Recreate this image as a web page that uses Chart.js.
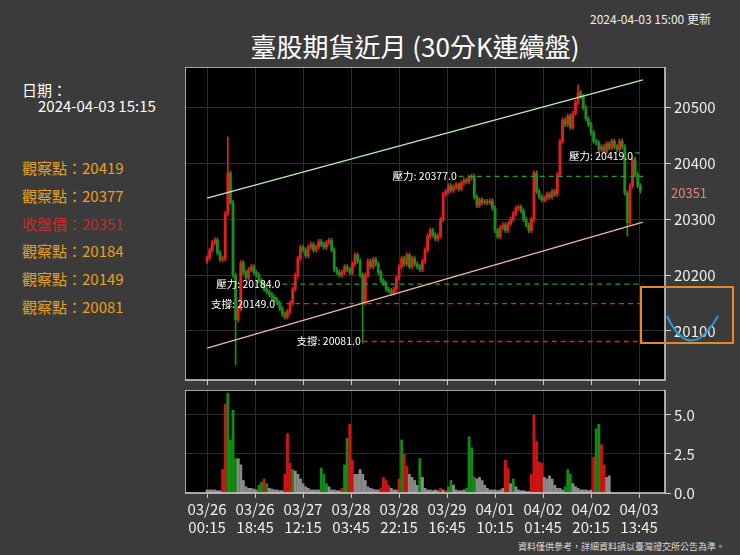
<!DOCTYPE html>
<html><head><meta charset="utf-8">
<script src="https://cdn.jsdelivr.net/npm/chart.js@4/dist/chart.umd.min.js"></script>
<style>
body{margin:0;background:#3b3b3b;width:740px;height:555px;overflow:hidden;font-family:"Noto Sans CJK TC",sans-serif;position:relative;color:#fff}
.t{position:absolute;white-space:nowrap}
canvas{position:absolute}
</style></head><body>
<div class="t" style="left:590px;top:10px;font-size:12px;color:#eee">2024-04-03 15:00 更新</div>
<div class="t" style="left:0;width:830px;text-align:center;top:27px;font-size:26px;color:#fff">臺股期貨近月 (30分K連續盤)</div>
<div class="t" style="left:22px;top:79px;font-size:15px">日期：</div>
<div class="t" style="left:38px;top:95px;font-size:15px">2024-04-03 15:15</div>
<div id="obs"></div>
<div class="t" style="left:518px;top:540px;font-size:9px;color:#ddd">資料僅供參考，詳細資料請以臺灣證交所公告為準。</div>
<div style="position:absolute;left:185px;top:67px;width:555px;height:318px"><canvas id="c1"></canvas></div>
<div style="position:absolute;left:185px;top:390px;width:555px;height:165px"><canvas id="c2"></canvas></div>
<script>
// half-resolution 30-min bars (each entry = 2 bars)
const closes = [
20231,20245,20258,20263,20240,20228,20230,20310,20383,20330,
20200,20120,20140,20222,20205,20195,20210,20215,20205,20200,
20190,20185,20175,20170,20165,20160,20156,20150,20140,20130,
20125,20135,20150,20175,20200,20230,20250,20245,20235,20250,
20255,20245,20250,20260,20255,20250,20258,20262,20245,20210,
20205,20200,20205,20215,20210,20205,20220,20236,20225,20200,
20150,20200,20225,20215,20228,20220,20205,20190,20185,20175,
20172,20168,20175,20195,20215,20230,20220,20236,20215,20230,
20220,20215,20210,20225,20245,20270,20280,20272,20265,20270,
20300,20345,20350,20360,20352,20358,20362,20355,20365,20370,
20368,20375,20377,20340,20325,20335,20330,20332,20330,20333,
20320,20280,20269,20285,20290,20280,20292,20300,20310,20320,
20322,20315,20300,20290,20280,20300,20383,20350,20340,20335,
20338,20345,20340,20350,20345,20380,20440,20478,20470,20485,
20465,20490,20510,20527,20520,20500,20480,20470,20455,20440,
20437,20425,20430,20422,20435,20428,20440,20430,20425,20440,
20430,20347,20294,20360,20407,20380,20360,20351];
const firstOpen = 20225;
const spikes = {8:[20448,null],11:[null,20039],60:[null,20078],143:[20541,null],162:[null,20270]};
const volumes = [
.2,.2,.2,.2,.15,.15,1.5,5.7,6.4,3.4,
5.3,2.2,2.2,1.8,.8,.4,.3,.3,.25,.2,
.5,.7,.9,.6,.3,.25,.2,.2,.15,.15,
1.2,3.8,1.9,1.5,1.4,1.2,.9,.6,.4,.3,
.2,.2,.2,.2,1.6,1.2,.6,.4,.2,.2,
.15,.15,.3,1.8,3.5,4.4,2.1,1.2,1.2,1.5,
1.2,.8,.4,.3,.25,.2,.2,.3,1.0,.8,
.5,.3,.2,.2,.9,3.4,2.5,1.7,1.2,1.0,
.8,.5,2.2,1.0,.3,.2,.2,.15,.2,.15,
.3,.2,.15,.4,.8,.5,.2,.15,.15,.2,
.3,3.6,2.9,1.0,.9,1.0,.8,.5,.3,.2,
.2,.2,.15,.2,.3,2.1,1.6,.6,.9,.4,
.2,.15,.15,.1,.1,1.2,5.0,3.3,2.0,1.9,
1.0,.9,1.1,.9,.5,.3,.3,.2,.4,1.5,
1.2,.6,.4,.3,.2,.2,.2,.15,.2,2.3,
4.1,4.4,3.1,1.8,1.0,1.1];
const volColors = "kkkkkkrrgg"+"ggkkkkkkkk"+"ggrgkkkkkk"+"rrrgkkkkkk"+"kkkkgggkkk"+"kkrggrrkkk"+"kkkkkkkrrr"+"rkkkrgrrkk"+"kkgkkkkkkk"+"rkrggkkkkk"+"ggggkkkkkk"+"kkkkkrrkgk"+"kkkkkrrrrr"+"kkkkkkkkgg"+"gkkkkkkkkr"+"ggrrkk";
const tickLabels = [["03/26","00:15"],["03/26","18:45"],["03/27","12:15"],["03/28","03:45"],["03/28","22:15"],["03/29","16:45"],["04/01","10:15"],["04/02","01:45"],["04/02","20:15"],["04/03","13:45"]];
const priceTicks = [20100,20200,20300,20400,20500];
const volTicks = [0,2.5,5];
// support / resistance levels: [label, value, start bar, color]
const levels = [["壓力",20419,330,"#2e9a2e"],["壓力",20377,194,"#2e9a2e"],["壓力",20184,58,"#2e9a2e"],["支撐",20149,54,"#c83434"],["支撐",20081,120,"#e02424"]];
const upperTrend = [[0,20338],[336,20550]];
const lowerTrend = [[0,20069],[336,20295]];
const observe = [["觀察點",20419,"#e8a020"],["觀察點",20377,"#e8a020"],["收盤價",20351,"#c42c2c"],["觀察點",20184,"#e8a020"],["觀察點",20149,"#e8a020"],["觀察點",20081,"#e8a020"]];
const lastClose = 20351;

const obs = document.getElementById('obs');
observe.forEach((o,i)=>{
  const d=document.createElement('div');d.className='t';
  d.style.cssText=`left:22px;top:${157+i*27.8}px;font-size:15px;color:${o[2]}`;
  d.textContent=o[0]+'：'+o[1];obs.appendChild(d);
});

const UP='#e41e1e', DN='#1e8c1e';
const wicks=[], bodies=[], wc=[];
closes.forEach((c,i)=>{
  const o = i===0?firstOpen:closes[i-1];
  let hi=Math.max(o,c)+4, lo=Math.min(o,c)-4;
  if(spikes[i]){ if(spikes[i][0])hi=spikes[i][0]; if(spikes[i][1])lo=spikes[i][1]; }
  wicks.push({x:i*2,y:[lo,hi]});
  bodies.push({x:i*2,y:[o,c===o?c+1:c]});
  wc.push(c>=o?UP:DN);
});

const XMIN=-17, XMAX=353;
const tickVals=tickLabels.map((_,i)=>i*37);
const gridC='#2c2c2c';
const frame={id:'frame',
  beforeDraw(ch){const a=ch.chartArea,g=ch.ctx;g.save();g.fillStyle='#000';g.fillRect(a.left,a.top,a.width,a.height);g.restore();},
  afterDraw(ch){const a=ch.chartArea,g=ch.ctx;g.save();g.strokeStyle='#d8d8d8';g.lineWidth=1.5;g.strokeRect(a.left,a.top,a.width,a.height);g.restore();}
};
const noPad=s=>{s.paddingTop=0;s.paddingBottom=0;s.paddingLeft=0;s.paddingRight=0;};
const xScale=(showLabels)=>({type:'linear',min:XMIN,max:XMAX,offset:false,
  afterBuildTicks(s){s.ticks=tickVals.map(v=>({value:v}));},
  afterFit(s){s.height=showLabels?62:5;noPad(s);},
  grid:{color:gridC,drawTicks:true,tickLength:5,tickColor:'#ccc',offset:false},border:{display:false},
  ticks:{display:showLabels,maxRotation:0,autoSkip:false,color:'#eee',font:{size:15,family:'Noto Sans CJK TC'},padding:2,
    callback:(v)=>tickLabels[tickVals.indexOf(v)]}});
const yScale=(min,max,ticks,fmt)=>({position:'right',min,max,
  afterBuildTicks(s){s.ticks=ticks.map(v=>({value:v}));},
  afterFit(s){s.width=75;noPad(s);},
  grid:{color:gridC,tickLength:6,tickColor:'#ccc'},border:{display:false},
  ticks:{color:'#eee',font:{size:15,family:'Noto Sans CJK TC'},padding:3,callback:fmt}});

const line=(pts,color,dash,w)=>({type:'line',data:pts.map(p=>({x:p[0],y:p[1]})),borderColor:color,borderWidth:w,borderDash:dash,pointRadius:0,order:0});

const overlay={id:'overlay',afterDraw(ch){
  const g=ch.ctx,xs=ch.scales.x,ys=ch.scales.y;g.save();
  g.font='10.5px "Noto Sans CJK TC"';g.fillStyle='#fff';g.textAlign='right';g.textBaseline='middle';
  levels.forEach(l=>g.fillText(`${l[0]}: ${l[1].toFixed(1)}`,xs.getPixelForValue(l[2])-2,ys.getPixelForValue(l[1])+(l[1]===20419?3:0)));
  g.textAlign='left';g.font='13px "Noto Sans CJK TC"';g.fillStyle='#e88080';
  g.fillText(String(lastClose),ch.chartArea.right+6,ys.getPixelForValue(lastClose)+2);
  // orange box with blue curve
  g.strokeStyle='#e8862a';g.lineWidth=2;g.strokeRect(456,220,92,56);
  g.strokeStyle='#2a9ad8';g.beginPath();g.moveTo(482,249);g.quadraticCurveTo(505,298,533,249);g.stroke();
  g.restore();}};

const common={responsive:true,maintainAspectRatio:false,animation:false,layout:{padding:0,autoPadding:false},
  plugins:{legend:{display:false},tooltip:{enabled:false}}};

new Chart(document.getElementById('c1'),{
  data:{datasets:[
    line(upperTrend,'#b8eeb0',[],1.4),line(lowerTrend,'#f0b4aa',[],1.4),
    ...levels.map(l=>line([[l[2],l[1]],[336,l[1]]],l[3],[5,4],1.3)),
    {type:'bar',data:wicks,backgroundColor:wc,barThickness:1,grouped:false,order:2},
    {type:'bar',data:bodies,backgroundColor:wc,barThickness:2.2,grouped:false,order:1}]},
  options:{...common,scales:{x:xScale(false),y:yScale(20012,20573,priceTicks,v=>v)}},
  plugins:[frame,overlay]});

new Chart(document.getElementById('c2'),{
  type:'bar',
  data:{datasets:[{data:volumes.map((v,i)=>({x:i*2,y:v})),
    backgroundColor:[...volColors].map(c=>c==='r'?'#d01414':c==='g'?'#138a13':'#8a8a8a'),barThickness:2.2}]},
  options:{...common,scales:{x:xScale(true),y:yScale(0,6.6,volTicks,v=>v.toFixed(1))}},
  plugins:[frame]});
</script></body></html>
